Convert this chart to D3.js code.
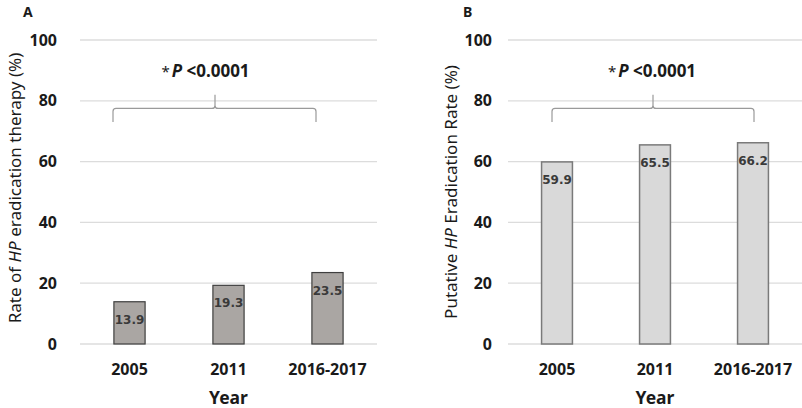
<!DOCTYPE html>
<html>
<head>
<meta charset="utf-8">
<script src="https://cdn.jsdelivr.net/npm/d3@7"></script>
<style>
  body { margin: 0; background: #fff; }
  svg { display: block; }
</style>
</head>
<body>
<svg id="chart" width="802" height="408"></svg>
<script>
// Data
var years = ["2005", "2011", "2016-2017"];
var therapyRate = [13.9, 19.3, 23.5];
var eradicationRate = [59.9, 65.5, 66.2];
var yTicks = [0, 20, 40, 60, 80, 100];

// layout of the two panels
var panels = [
    { letter: "A", values: therapyRate, left: 80, right: 377, letterX: 23,
      fill: "#aaa6a3", stroke: "#3f3f3f", strokeW: 1.2,
      titleX: 21, titleY: 188, titlePre: "Rate of ", titlePost: " eradication therapy (%)",
      tickGap: 23, brace: [113, 215, 316], pShift: -9.5 },
    { letter: "B", values: eradicationRate, left: 508, right: 802, letterX: 463,
      fill: "#d9d9d9", stroke: "#7a7a7a", strokeW: 1.5,
      titleX: 457, titleY: 192, titlePre: "Putative ", titlePost: " Eradication Rate (%)",
      tickGap: 16, brace: [552, 653, 754], pShift: -1 }
];

var plotTop = 40, plotBottom = 344;
var font = "'Noto Sans', 'Open Sans', sans-serif";
var svg = d3.select("#chart");

panels.forEach(function(p) {
    var g = svg.append("g");

    var x = d3.scaleBand()
        .domain(years)
        .range([p.left, p.right])
        .paddingInner(0.685)
        .paddingOuter(0.3425);

    var y = d3.scaleLinear()
        .domain([0, 100])
        .range([plotBottom, plotTop]);

    // gridlines
    g.selectAll("line.grid")
        .data(yTicks)
        .enter().append("line")
        .attr("class", "grid")
        .attr("x1", p.left)
        .attr("x2", p.right)
        .attr("y1", d => y(d))
        .attr("y2", d => y(d))
        .attr("stroke", "#dcdcdc")
        .attr("stroke-width", 1.3);

    // y tick labels
    g.selectAll("text.ytick")
        .data(yTicks)
        .enter().append("text")
        .attr("class", "ytick")
        .attr("x", p.left - p.tickGap)
        .attr("y", d => y(d))
        .attr("dy", "0.35em")
        .attr("text-anchor", "end")
        .attr("font-family", font)
        .attr("font-weight", "bold")
        .attr("font-size", 16)
        .attr("fill", "#1a1a1a")
        .text(d => d);

    // bars
    g.selectAll("rect.bar")
        .data(p.values)
        .enter().append("rect")
        .attr("class", "bar")
        .attr("x", (d, i) => x(years[i]))
        .attr("y", d => y(d))
        .attr("width", x.bandwidth())
        .attr("height", d => y(0) - y(d))
        .attr("fill", p.fill)
        .attr("stroke", p.stroke)
        .attr("stroke-width", p.strokeW);

    // value labels
    g.selectAll("text.val")
        .data(p.values)
        .enter().append("text")
        .attr("class", "val")
        .attr("x", (d, i) => x(years[i]) + x.bandwidth() / 2)
        .attr("y", d => y(d) + 22)
        .attr("text-anchor", "middle")
        .attr("font-family", "'DejaVu Sans', sans-serif")
        .attr("font-weight", "bold")
        .attr("font-size", 12)
        .attr("fill", "#3a3a3a")
        .text(d => d.toFixed(1));

    // x tick labels
    g.selectAll("text.xtick")
        .data(years)
        .enter().append("text")
        .attr("class", "xtick")
        .attr("x", d => x(d) + x.bandwidth() / 2)
        .attr("y", 375)
        .attr("text-anchor", "middle")
        .attr("font-family", font)
        .attr("font-weight", "bold")
        .attr("font-size", 16)
        .attr("fill", "#1a1a1a")
        .text(d => d);

    // x axis title
    g.append("text")
        .attr("x", (p.left + p.right) / 2)
        .attr("y", 404)
        .attr("text-anchor", "middle")
        .attr("font-family", font)
        .attr("font-weight", "bold")
        .attr("font-size", 17.5)
        .attr("fill", "#1a1a1a")
        .text("Year");

    // y axis title
    var yt = g.append("text")
        .attr("transform", "translate(" + p.titleX + "," + p.titleY + ") rotate(-90)")
        .attr("text-anchor", "middle")
        .attr("font-family", font)
        .attr("font-size", 17)
        .attr("fill", "#1a1a1a");
    yt.append("tspan").text(p.titlePre);
    yt.append("tspan").attr("font-style", "italic").text("HP");
    yt.append("tspan").text(p.titlePost);

    // panel letter
    g.append("text")
        .attr("x", p.letterX)
        .attr("y", 17)
        .attr("font-family", font)
        .attr("font-weight", "bold")
        .attr("font-size", 14)
        .attr("fill", "#1a1a1a")
        .text(p.letter);

    // curly brace
    var b0 = p.brace[0], bm = p.brace[1], b1 = p.brace[2];
    var yh = y(77.5), yb = y(73), yt2 = y(82), r = 3;
    var path = "M" + b0 + "," + yb + " L" + b0 + "," + (yh + r) +
        " Q" + b0 + "," + yh + " " + (b0 + r) + "," + yh +
        " L" + (bm - r) + "," + yh +
        " Q" + bm + "," + yh + " " + bm + "," + (yh - r) +
        " L" + bm + "," + yt2 +
        " M" + bm + "," + (yh - r) +
        " Q" + bm + "," + yh + " " + (bm + r) + "," + yh +
        " L" + (b1 - r) + "," + yh +
        " Q" + b1 + "," + yh + " " + b1 + "," + (yh + r) +
        " L" + b1 + "," + yb;
    g.append("path")
        .attr("d", path)
        .attr("fill", "none")
        .attr("stroke", "#9a9a9a")
        .attr("stroke-width", 1.2);

    // p-value
    var pt = g.append("text")
        .attr("x", bm + p.pShift)
        .attr("y", 77)
        .attr("text-anchor", "middle")
        .attr("font-family", font)
        .attr("font-weight", "bold")
        .attr("font-size", 17)
        .attr("fill", "#1a1a1a");
    pt.append("tspan").attr("font-weight", "normal").attr("font-size", 15).text("*");
    pt.append("tspan").attr("font-style", "italic").attr("dx", 2).text("P");
    pt.append("tspan").text(" <0.0001");
});
</script>
</body>
</html>
